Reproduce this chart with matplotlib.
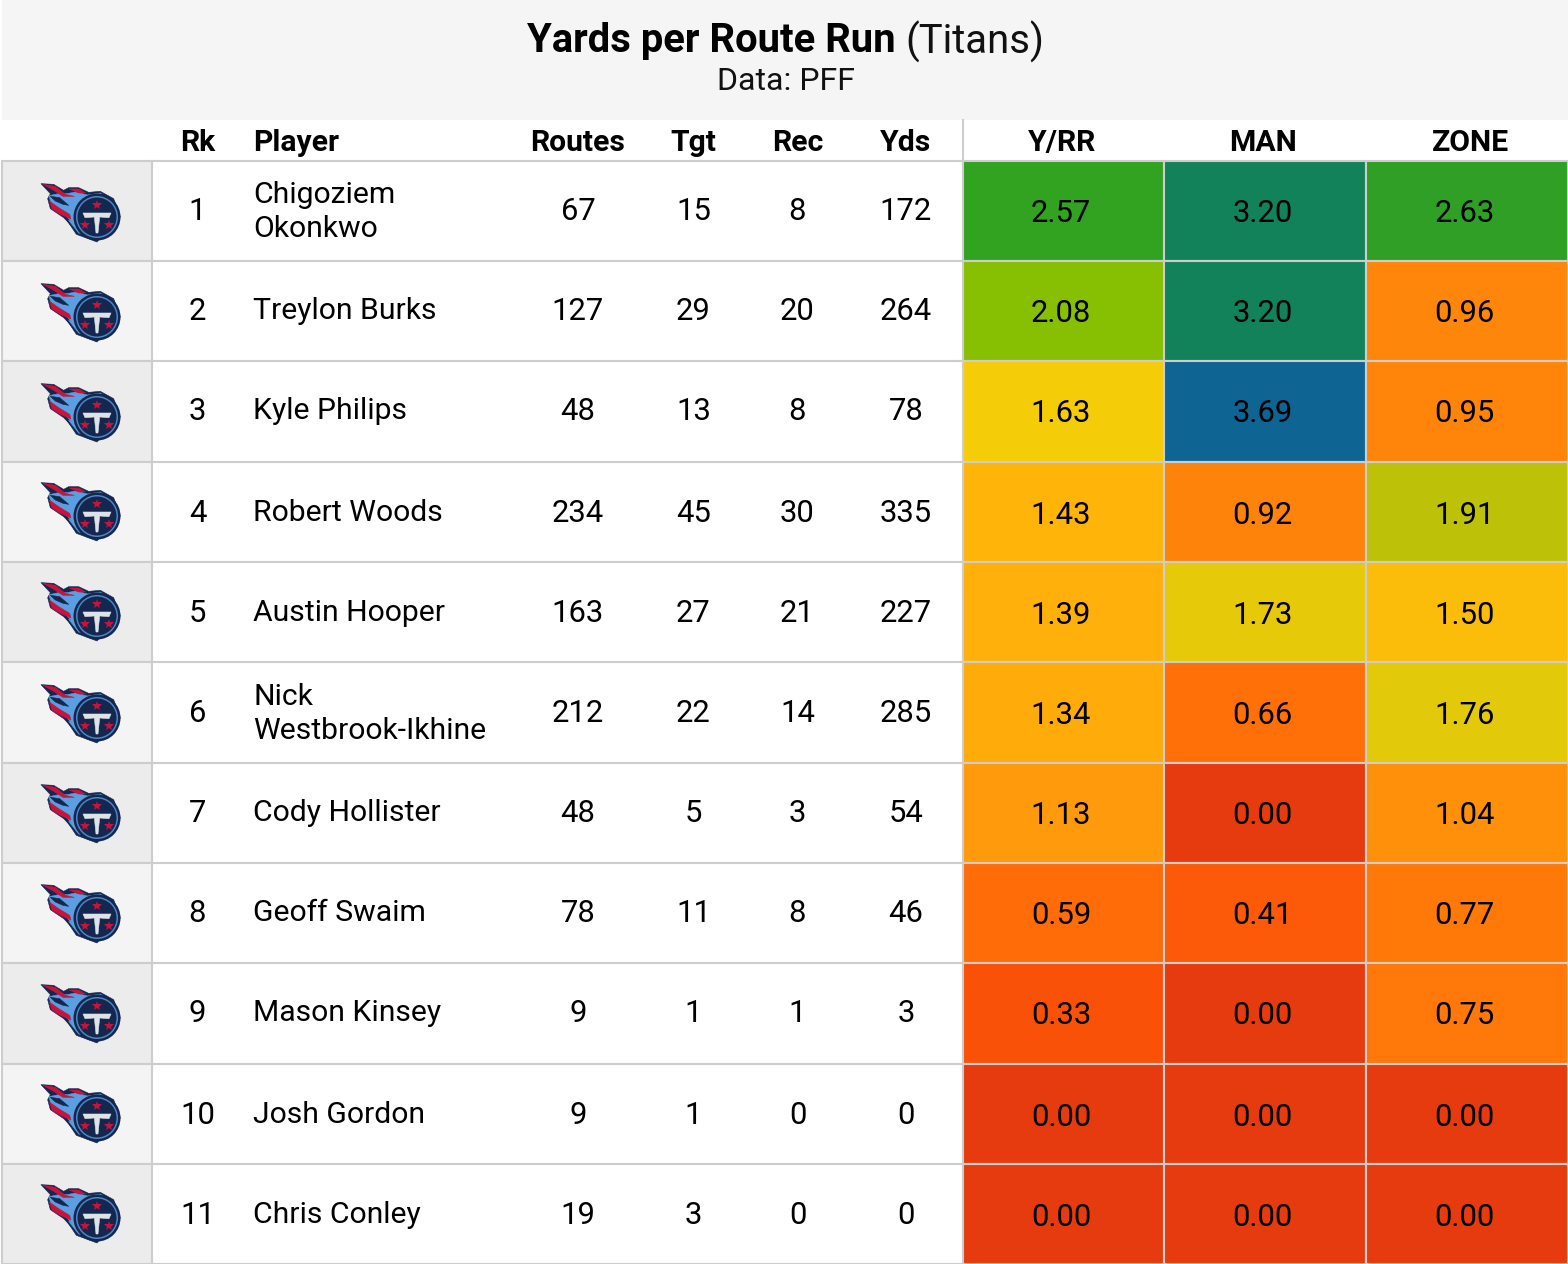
import matplotlib
matplotlib.use('Agg')
import matplotlib.pyplot as plt
from matplotlib.colors import LinearSegmentedColormap
from matplotlib.patches import Rectangle, Circle, Polygon

plt.rcParams['font.family'] = ['Roboto', 'DejaVu Sans']

rk = [1, 2, 3, 4, 5, 6, 7, 8, 9, 10, 11]
players = ['Chigoziem\nOkonkwo', 'Treylon Burks', 'Kyle Philips', 'Robert Woods', 'Austin Hooper',
           'Nick\nWestbrook-Ikhine', 'Cody Hollister', 'Geoff Swaim', 'Mason Kinsey', 'Josh Gordon', 'Chris Conley']
routes = [67, 127, 48, 234, 163, 212, 48, 78, 9, 9, 19]
tgt = [15, 29, 13, 45, 27, 22, 5, 11, 1, 1, 3]
rec = [8, 20, 8, 30, 21, 14, 3, 8, 1, 0, 0]
yds = [172, 264, 78, 335, 227, 285, 54, 46, 3, 0, 0]
yrr = [2.57, 2.08, 1.63, 1.43, 1.39, 1.34, 1.13, 0.59, 0.33, 0.00, 0.00]
man = [3.20, 3.20, 3.69, 0.92, 1.73, 0.66, 0.00, 0.41, 0.00, 0.00, 0.00]
zone = [2.63, 0.96, 0.95, 1.91, 1.50, 1.76, 1.04, 0.77, 0.75, 0.00, 0.00]

# pixel layout
row_y = [161, 261, 361, 462, 562, 662, 763, 863, 963, 1064, 1164, 1264]
text_y = [208, 308, 408, 510, 610, 710, 810, 910, 1010, 1112, 1212]
logo_y = [217, 317, 417, 516, 616, 718, 818, 918, 1018, 1118, 1218]
heat_x = [963, 1164, 1366, 1568]
grid = '#cdcdcd'

stops = [(0, '#e63b0e'), (0.33, '#fb5208'), (0.59, '#ff6d08'), (0.96, '#fe860a'), (1.13, '#fe9a0b'),
         (1.43, '#ffb40a'), (1.63, '#f5cc08'), (1.76, '#e3c90a'), (1.91, '#bdc208'), (2.08, '#88bf03'),
         (2.57, '#32a220'), (3.2, '#12835a'), (3.69, '#0e6593')]
cmap = LinearSegmentedColormap.from_list('heat', [(v / 3.69, c) for v, c in stops])

navy = '#14274e'
sky = '#5b9fe0'
red = '#c8143c'


def logo(ax, cx, cy):
    # shapes traced at 3x around the badge centre
    def shape(pts, col, z):
        xy = [(cx + (x - 290) / 3, cy + (y - 320) / 3) for x, y in pts]
        ax.add_patch(Polygon(xy, closed=True, fc=col, ec=col, lw=0.4, joinstyle='round', zorder=z))

    shape([(122, 220), (160, 222), (190, 240), (205, 232), (235, 232), (265, 246), (300, 243), (340, 265),
           (360, 320), (290, 395), (228, 372), (200, 330), (212, 345), (190, 322), (150, 295), (142, 265), (150, 250)], navy, 3)
    shape([(146, 256), (175, 250), (200, 250), (225, 245), (262, 254), (300, 248), (335, 275), (300, 385), (235, 368),
           (205, 330), (214, 335), (196, 315), (158, 290), (150, 272)], sky, 4)
    shape([(128, 222), (165, 228), (195, 252), (222, 258), (188, 258), (160, 240)], red, 5)
    shape([(207, 236), (235, 236), (256, 248), (235, 248)], red, 5)
    shape([(147, 272), (175, 292), (208, 312), (212, 326), (180, 312), (155, 296)], red, 5)
    shape([(150, 258), (178, 262), (205, 285), (188, 282), (165, 272)], navy, 5)

    ax.add_patch(Circle((cx, cy), 23.5, fc=navy, ec='none', zorder=6))
    ax.add_patch(Circle((cx, cy), 21, fc='#4d86c6', ec='none', zorder=7))
    ax.add_patch(Circle((cx, cy), 19.5, fc=navy, ec='none', zorder=8))
    shape([(248, 308), (332, 308), (326, 322), (298, 320), (293, 368), (287, 368), (282, 320), (254, 322)], '#dfe3e8', 9)
    for dx, dy in [(0, -12), (-12, 8), (12, 8)]:
        ax.plot(cx + dx, cy + dy, marker='*', ms=7, color=red, mew=0, zorder=9)


fig = plt.figure(figsize=(15.68, 12.64), dpi=100)
ax = fig.add_axes([0, 0, 1, 1])
ax.set_xlim(0, 1568)
ax.set_ylim(1264, 0)
ax.axis('off')

# title band
ax.add_patch(Rectangle((2, 0), 1566, 120, fc='#f5f5f5', ec='none'))
ax.text(527, 37, 'Yards per Route Run', fontsize=28.8, fontweight='bold', ha='left', va='center_baseline', color='black')
ax.text(905, 37, '(Titans)', fontsize=28.9, ha='left', va='center_baseline', color='#111111')
ax.text(786, 79, 'Data: PFF', fontsize=23, ha='center', va='center_baseline', color='#111111')

# column headers
hdr_y = 140
for label, x in [('Rk', 197.5), ('Routes', 578), ('Tgt', 693.5), ('Rec', 797.5), ('Yds', 906), ('Y/RR', 1062), ('MAN', 1263.5), ('ZONE', 1470)]:
    ax.text(x, hdr_y, label, fontsize=21.7, fontweight='bold', ha='center', va='center_baseline')
ax.text(253.5, hdr_y, 'Player', fontsize=21.7, fontweight='bold', ha='left', va='center_baseline')
ax.plot([963, 963], [120, 161], color=grid, lw=1.5)

for i in range(len(players)):
    top, bot = row_y[i], row_y[i + 1]
    mid = text_y[i]

    # logo cell
    ax.add_patch(Rectangle((2, top), 150, bot - top, fc='#ececec' if i % 2 == 0 else '#f4f4f4', ec=grid, lw=1.5, zorder=1))
    logo(ax, 97, logo_y[i])

    ax.text(197.5, mid, rk[i], fontsize=22.3, ha='center', va='center_baseline')
    # wrapped names sit a bit higher
    name_y = mid - 2 if '\n' in players[i] else mid
    ax.text(253.5, name_y, players[i], fontsize=21.7, ha='left', va='center_baseline', linespacing=1.28)
    ax.text(578, mid, routes[i], fontsize=22.3, ha='center', va='center_baseline')
    ax.text(693.5, mid, tgt[i], fontsize=22.3, ha='center', va='center_baseline')
    ax.text(797.5, mid, rec[i], fontsize=22.3, ha='center', va='center_baseline')
    ax.text(906, mid, yds[i], fontsize=22.3, ha='center', va='center_baseline')

    ax.plot([152, 963], [bot, bot], color=grid, lw=1.5, zorder=1)
    if i == 0:
        ax.plot([152, 963], [top, top], color=grid, lw=1.5, zorder=1)

    # heat cells
    for j, vals in enumerate([yrr, man, zone]):
        x0, x1 = heat_x[j], heat_x[j + 1]
        ax.add_patch(Rectangle((x0, top), x1 - x0, bot - top, fc=cmap(vals[i] / 3.69), ec=grid, lw=1.5, zorder=2))
        ax.text((x0 + x1) / 2 - 2.5, mid + 2, f'{vals[i]:.2f}', fontsize=22.3, ha='center', va='center_baseline', zorder=3)

fig.savefig('out.png', dpi=100)
